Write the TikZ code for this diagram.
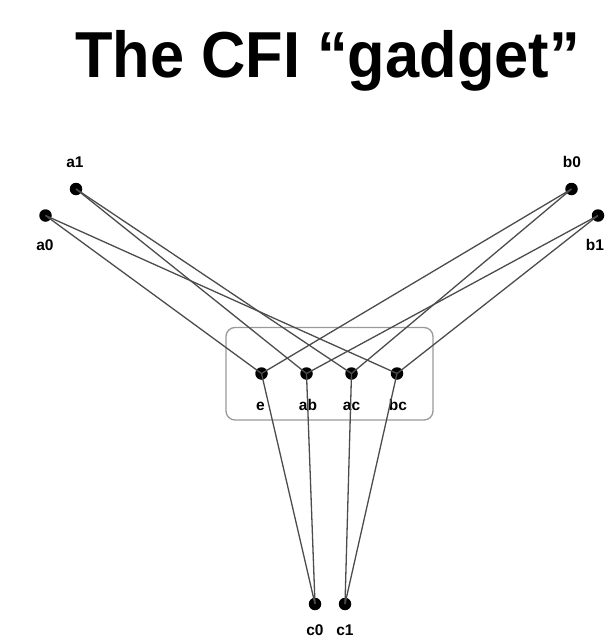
\documentclass[tikz,border=0pt]{standalone}
\usepackage{fontspec}
\setmainfont{Liberation Sans}
\begin{document}
\begin{tikzpicture}[x=1pt,y=-1pt,
  vtx/.style={circle,fill=black,inner sep=0pt,minimum size=12.5pt},
  lbl/.style={font=\bfseries\fontsize{15.5}{17}\selectfont,inner sep=0pt,anchor=base},
  edge/.style={draw=black!70,line width=1.3pt},
  group/.style={draw=black!40,line width=1.3pt,rounded corners=9pt}]
\useasboundingbox (0,0) rectangle (605,638);

% title
\node[anchor=base,inner sep=0pt,font=\bfseries\fontsize{65}{70}\selectfont]
  (title) at (327.5,77) {\scalebox{0.944}[1]{The CFI “gadget”}};

% gadget frame
\draw[group] (226,327.5) rectangle (433,420);

% outer vertices
\node[vtx] (a1) at (76,189) {};
\node[vtx] (a0) at (45.5,215.5) {};
\node[vtx] (b0) at (571.5,189) {};
\node[vtx] (b1) at (598,215.5) {};
\node[vtx] (c0) at (315,604) {};
\node[vtx] (c1) at (345,604) {};

% inner vertices (even subsets)
\node[vtx] (e)  at (261.5,373.5) {};
\node[vtx] (ab) at (306.5,373.5) {};
\node[vtx] (ac) at (351.5,373.5) {};
\node[vtx] (bc) at (397,373.5) {};

% labels (baselines)
\node[lbl] (la1) at (75,167.5) {a1};
\node[lbl] (la0) at (45,250.5) {a0};
\node[lbl] (lb0) at (572,167) {b0};
\node[lbl] (lb1) at (595,250.5) {b1};
\node[lbl] (lc0) at (315,635) {c0};
\node[lbl] (lc1) at (345,635) {c1};
\node[lbl] (le)  at (260.5,410.5) {e};
\node[lbl] (lab) at (308,410.5) {ab};
\node[lbl] (lac) at (351.5,410.5) {ac};
\node[lbl] (lbc) at (398,410.5) {bc};

% edges
\foreach \u/\v in {a0/e,a0/bc,a1/ab,a1/ac,b0/e,b0/ac,b1/ab,b1/bc,c0/e,c0/ab,c1/ac,c1/bc}
  \draw[edge] (\u.center) -- (\v.center);
\end{tikzpicture}
\end{document}
